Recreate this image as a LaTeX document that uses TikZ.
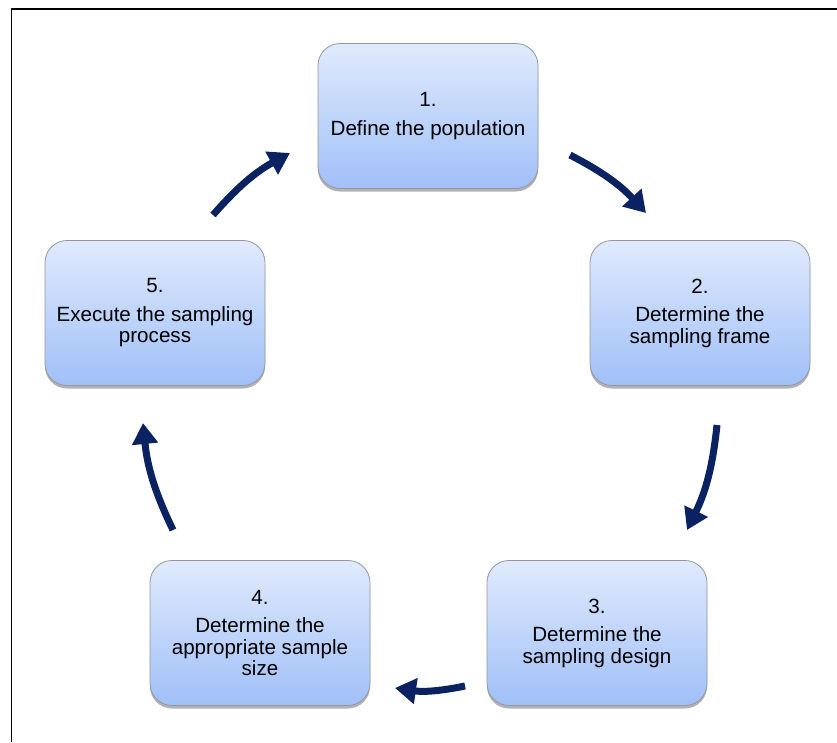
\documentclass[tikz,border=0pt]{standalone}
\usepackage{fontspec}
\setmainfont{Liberation Sans}
\usetikzlibrary{arrows.meta,shadows,positioning}
\definecolor{navy}{RGB}{10,33,98}
\definecolor{boxtop}{RGB}{224,234,252}
\definecolor{boxbottom}{RGB}{160,192,248}
\definecolor{boxline}{RGB}{150,150,156}
\tikzset{
	stepbox/.style={draw=boxline,line width=0.8pt,rounded corners=22pt,top color=boxtop,bottom color=boxbottom,
		minimum width=220pt,minimum height=145pt,align=center,font=\fontsize{20.6}{21.5}\selectfont,text=black,
		drop shadow={shadow xshift=0pt,shadow yshift=-3pt,fill=black,opacity=0.3}},
	cyc/.style={draw=navy,line width=7pt,-{Triangle[width=25pt,length=21pt]}},
}

\begin{document}
\begin{tikzpicture}[x=1pt,y=-1pt]
	\useasboundingbox (0,0) rectangle (837,742);
	\draw[line width=1pt] (11,742) -- (11,8.5);
	\draw[line width=2pt] (10.5,8.5) -- (837,8.5);
	% the five steps
	\node[stepbox] (pop) at (428,116) {1.\\[7pt]Define the population};
	\node[stepbox] (frame) at (700,313) {2.\\[7pt]Determine the\\sampling frame};
	\node[stepbox] (design) at (597,633) {3.\\[7pt]Determine the\\sampling design};
	\node[stepbox] (size) at (260,633) {4.\\[7pt]Determine the\\appropriate sample\\size};
	\node[stepbox] (exec) at (155,313) {5.\\[7pt]Execute the sampling\\process};
	% arrow ends
	\coordinate (s1) at (570,155); \coordinate (t1) at (646,213);
	\coordinate (s2) at (717,425); \coordinate (t2) at (687,530);
	\coordinate (s3) at (465,686); \coordinate (t3) at (395,688);
	\coordinate (s4) at (173,530); \coordinate (t4) at (143,423);
	\coordinate (s5) at (213,215); \coordinate (t5) at (290,153);
	\foreach \i in {1,...,5}
		\draw[cyc] (s\i) to[bend left=10] (t\i);
\end{tikzpicture}
\end{document}
